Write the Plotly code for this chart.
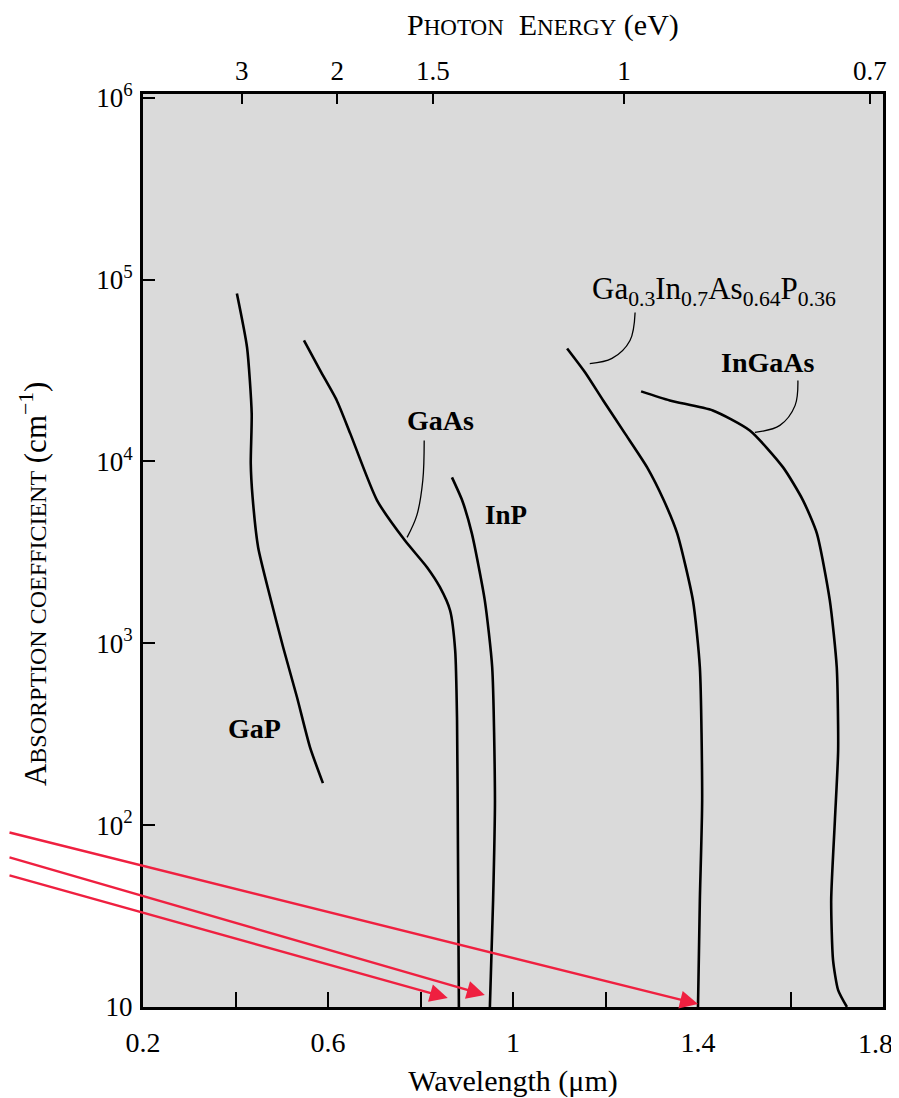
import plotly.graph_objects as go

# ---- data (wavelength in um, absorption coefficient in cm^-1) ----
gap_wl = [0.403, 0.425, 0.435, 0.433, 0.437, 0.449, 0.475, 0.503, 0.533, 0.561, 0.589]
gap_a = [10**4.923, 10**4.626, 10**4.264, 10**3.989, 10**3.802, 10**3.527, 10**3.253,
         10**2.978, 10**2.703, 10**2.429, 10**2.231]

gaas_wl = [0.548, 0.583, 0.619, 0.648, 0.706, 0.766, 0.814, 0.842, 0.864, 0.875, 0.879, 0.881, 0.883]
gaas_a = [10**4.665, 10**4.5, 10**4.335, 10**4.154, 10**3.786, 10**3.566, 10**3.418, 10**3.308,
          10**3.18, 10**2.96, 10**2.577, 10**1.863, 10**1.0]

inp_wl = [0.868, 0.890, 0.911, 0.939, 0.955, 0.961, 0.957, 0.950]
inp_a = [10**3.912, 10**3.786, 10**3.604, 10**3.236, 10**2.868, 10**2.137, 10**1.588, 10**1.0]

quat_wl = [1.117, 1.156, 1.195, 1.242, 1.290, 1.326, 1.355, 1.389, 1.404, 1.409, 1.404, 1.400]
quat_a = [10**4.621, 10**4.489, 10**4.335, 10**4.154, 10**3.967, 10**3.786, 10**3.604, 10**3.236,
          10**2.868, 10**2.137, 10**1.588, 10**1.0]

ingaas_wl = [1.277, 1.339, 1.432, 1.512, 1.584, 1.627, 1.657, 1.685, 1.700, 1.703, 1.696, 1.688,
             1.692, 1.703, 1.722]
ingaas_a = [10**4.385, 10**4.335, 10**4.28, 10**4.17, 10**3.967, 10**3.786, 10**3.604, 10**3.236,
            10**2.868, 10**2.412, 10**2.027, 10**1.588, 10**1.258, 10**1.093, 10**1.0]

# leader lines for labels
gaas_lead_wl = [0.808, 0.805, 0.792, 0.771]
gaas_lead_a = [10**4.115, 10**3.896, 10**3.703, 10**3.582]
quat_lead_wl = [1.264, 1.253, 1.214, 1.166]
quat_lead_a = [10**4.819, 10**4.665, 10**4.566, 10**4.538]
ingaas_lead_wl = [1.616, 1.610, 1.577, 1.523]
ingaas_lead_a = [10**4.445, 10**4.308, 10**4.198, 10**4.159]

# axis ticks (last label "1.8" drawn separately so it stays inside the page)
x_ticks = [0.2, 0.4, 0.6, 0.8, 1.0, 1.2, 1.4, 1.6, 1.8]
x_ticktext = ["0.2", "", "0.6", "", "1", "", "1.4", "", ""]
x_last_label = "1.8"
y_ticks = [10, 100, 1e3, 1e4, 1e5, 1e6]
y_ticktext = ["10", "10<sup>2</sup>", "10<sup>3</sup>", "10<sup>4</sup>", "10<sup>5</sup>", "10<sup>6</sup>"]
energy_ticks = [3, 2, 1.5, 1, 0.7]
energy_text = ["3", "2", "1.5", "1", "0.7"]

# red arrow targets (wavelength, log10 alpha) and tail offsets
arrow_wl = [1.40, 0.939, 0.859]
arrow_loga = [1.016, 1.066, 1.05]
arrow_ax = [-697, -485, -448]
arrow_ay = [-172, -138, -123]

FONT = "Liberation Serif"
line_style = dict(color="black", width=2.6, shape="spline", smoothing=0.6)

fig = go.Figure()
for wl, a in [(gap_wl, gap_a), (gaas_wl, gaas_a), (inp_wl, inp_a), (quat_wl, quat_a), (ingaas_wl, ingaas_a)]:
    fig.add_trace(go.Scatter(x=wl, y=a, mode="lines", line=line_style, showlegend=False, hoverinfo="skip"))
for wl, a in [(gaas_lead_wl, gaas_lead_a), (quat_lead_wl, quat_lead_a), (ingaas_lead_wl, ingaas_lead_a)]:
    fig.add_trace(go.Scatter(x=wl, y=a, mode="lines",
                             line=dict(color="black", width=1.3, shape="spline"),
                             showlegend=False, hoverinfo="skip"))

# dummy trace for top axis
fig.add_trace(go.Scatter(x=[0.2, 1.8], y=[10, 10], xaxis="x2", mode="lines",
                         line=dict(width=0), showlegend=False, hoverinfo="skip"))

labels = [
    (0.44, 2.53, "<b>GaP</b>", 28),
    (0.844, 4.225, "<b>GaAs</b>", 28),
    (0.985, 3.703, "<b>InP</b>", 27),
    (1.551, 4.544, "<b>InGaAs</b>", 28),
    (1.435, 4.935, "Ga<sub>0.3</sub>In<sub>0.7</sub>As<sub>0.64</sub>P<sub>0.36</sub>", 31),
]
for x, y, t, s in labels:
    fig.add_annotation(x=x, y=y, text=t, showarrow=False, font=dict(family=FONT, size=s, color="black"))

for wl, la, ax, ay in zip(arrow_wl, arrow_loga, arrow_ax, arrow_ay):
    fig.add_annotation(x=wl, y=la, ax=ax, ay=ay, text="", showarrow=True,
                       arrowhead=2, arrowsize=1.5, arrowwidth=2.4, arrowcolor="#ef2040")

# last bottom tick label
fig.add_annotation(x=x_ticks[-1], xref="x", y=0, yref="paper", text=x_last_label, showarrow=False,
                   xanchor="right", yanchor="middle", xshift=12, yshift=-36,
                   font=dict(family=FONT, size=28, color="black"))


def sc(s, size):
    return f"<span style='font-size:{size}px'>{s}</span>"


# axis titles (small caps emulated)
fig.add_annotation(xref="paper", yref="paper", x=0.5405, y=1.0756, showarrow=False,
                   xanchor="center", yanchor="middle",
                   text="P" + sc("HOTON", 23) + "&nbsp;&nbsp;E" + sc("NERGY", 23) + " (eV)",
                   font=dict(family=FONT, size=30, color="black"))
fig.add_annotation(xref="paper", yref="paper", x=-0.1486, y=0.4633, showarrow=False,
                   xanchor="center", yanchor="middle", textangle=-90,
                   text="A" + sc("BSORPTION COEFFICIENT", 24) + " (cm<sup>−1</sup>)",
                   font=dict(family=FONT, size=31, color="black"))

fig.update_layout(
    width=891, height=1090, autosize=False,
    margin=dict(l=135, r=16, t=86, b=91, autoexpand=False),
    paper_bgcolor="white",
    plot_bgcolor="#dadada",
    font=dict(family=FONT, size=26, color="black"),
    xaxis=dict(
        range=[0.2, 1.8], tickvals=x_ticks, ticktext=x_ticktext,
        ticks="inside", ticklen=15, tickwidth=2, tickcolor="black",
        tickfont=dict(size=28), ticklabelstandoff=8, ticklabeloverflow="allow",
        showline=True, linewidth=3, linecolor="black", mirror=True,
        showgrid=False, zeroline=False, automargin=False,
        title=dict(text="Wavelength (μm)", font=dict(size=30), standoff=28),
    ),
    xaxis2=dict(
        range=[0.2, 1.8], overlaying="x", side="top",
        tickvals=[1.24 / e for e in energy_ticks], ticktext=energy_text,
        ticks="inside", ticklen=10, tickwidth=2, tickcolor="black",
        tickfont=dict(size=27), ticklabelstandoff=8, ticklabeloverflow="allow",
        showline=False, showgrid=False, zeroline=False, automargin=False,
    ),
    yaxis=dict(
        type="log", range=[1, 6.02], tickvals=y_ticks, ticktext=y_ticktext,
        ticks="inside", ticklen=12, tickwidth=2, tickcolor="black",
        tickfont=dict(size=27), ticklabelstandoff=2,
        showline=True, linewidth=3, linecolor="black", mirror=True,
        showgrid=False, zeroline=False, automargin=False,
    ),
)

fig.write_html("out.html")
